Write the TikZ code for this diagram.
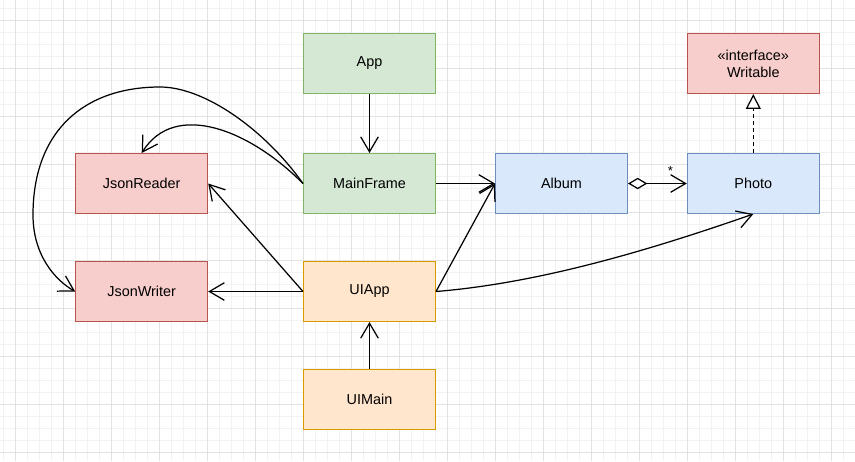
\documentclass[tikz,border=0pt]{standalone}
\usepackage{fontspec}
\setmainfont{Liberation Sans}
\usetikzlibrary{arrows.meta}
\definecolor{cgreen}{HTML}{D5E8D4}
\definecolor{cgreenline}{HTML}{82B366}
\definecolor{cred}{HTML}{F8CECC}
\definecolor{credline}{HTML}{B85450}
\definecolor{cblue}{HTML}{DAE8FC}
\definecolor{cblueline}{HTML}{6C8EBF}
\definecolor{corange}{HTML}{FFE6CC}
\definecolor{corangeline}{HTML}{D79B00}
\definecolor{gridminor}{HTML}{F2F2F2}
\definecolor{gridmajor}{HTML}{E2E2E2}
\tikzset{cls/.style = {draw, line width=0.6pt, minimum width=2.64cm, minimum height=1.2cm,
                       inner sep=0pt, align=center, font=\fontsize{8.2}{9.8}\selectfont},
         greencls/.style = {cls, fill=cgreen, draw=cgreenline},
         redcls/.style = {cls, fill=cred, draw=credline},
         bluecls/.style = {cls, fill=cblue, draw=cblueline},
         orangecls/.style = {cls, fill=corange, draw=corangeline},
         uses/.style = {line width=0.7pt, -{Straight Barb[length=8.5pt, width=10pt]}},
         aggr/.style = {line width=0.7pt,
                        {Diamond[fill=white, length=11pt, width=6.5pt]}-{Straight Barb[length=8.5pt, width=10pt]}},
         impl/.style = {line width=0.7pt, dash pattern=on 2pt off 2pt,
                        -{Triangle[fill=white, length=8.5pt, width=8.5pt]}}}

\begin{document}
\begin{tikzpicture}[x=0.02cm, y=-0.02cm]
    \useasboundingbox (0, 0) rectangle (855, 461);
    \fill [white] (0, 0) rectangle (855, 461);

    \foreach \gx in {3.7, 15.7, ..., 855} \draw [gridminor, line width=0.5pt] (\gx, 0) -- (\gx, 461);
    \foreach \gy in {8.5, 20.5, ..., 461} \draw [gridminor, line width=0.5pt] (0, \gy) -- (855, \gy);
    \foreach \gx in {15.7, 63.7, ..., 855} \draw [gridmajor, line width=0.5pt] (\gx, 0) -- (\gx, 461);
    \foreach \gy in {20.5, 68.5, ..., 461} \draw [gridmajor, line width=0.5pt] (0, \gy) -- (855, \gy);

    \node [greencls] (app) at (369.5, 63.5) {App};
    \node [greencls] (mainframe) at (369.5, 183.5) {MainFrame};
    \node [orangecls] (uiapp) at (369.5, 291.5) {UIApp};
    \node [orangecls] (uimain) at (369.5, 399.5) {UIMain};
    \node [redcls] (jsonreader) at (141.7, 183.5) {JsonReader};
    \node [redcls] (jsonwriter) at (141.7, 291.5) {JsonWriter};
    \node [bluecls] (album) at (561.5, 183.5) {Album};
    \node [bluecls] (photo) at (753.3, 183.5) {Photo};
    \node [redcls] (writable) at (753.3, 63.5) {«interface»\\Writable};

    \draw [uses] (app) -- (mainframe);
    \draw [uses] (uimain) -- (uiapp);
    \draw [uses] (mainframe) -- (album);
    \draw [uses] (uiapp.east) -- (album.west);
    \draw [uses] (uiapp.east) .. controls (540, 283) and (650, 250) .. (photo.south);
    \draw [uses] (uiapp) -- (jsonwriter);
    \draw [uses] (uiapp.west) -- (jsonreader.east);
    \draw [uses] (mainframe.west) .. controls (250, 130) and (175, 100) .. (jsonreader.north);
    \draw [uses] (mainframe.west) .. controls (265, 130) and (205, 87) .. (160, 87)
                 .. controls (85, 87) and (33, 130) .. (33, 215)
                 .. controls (33, 255) and (55, 280) .. (jsonwriter.west);
    \draw [aggr] (album) -- (photo) node [pos=0.72, above=3pt, inner sep=1pt, font=\fontsize{7.5}{9}\selectfont] {*};
    \draw [impl] (photo) -- (writable);
\end{tikzpicture}
\end{document}
